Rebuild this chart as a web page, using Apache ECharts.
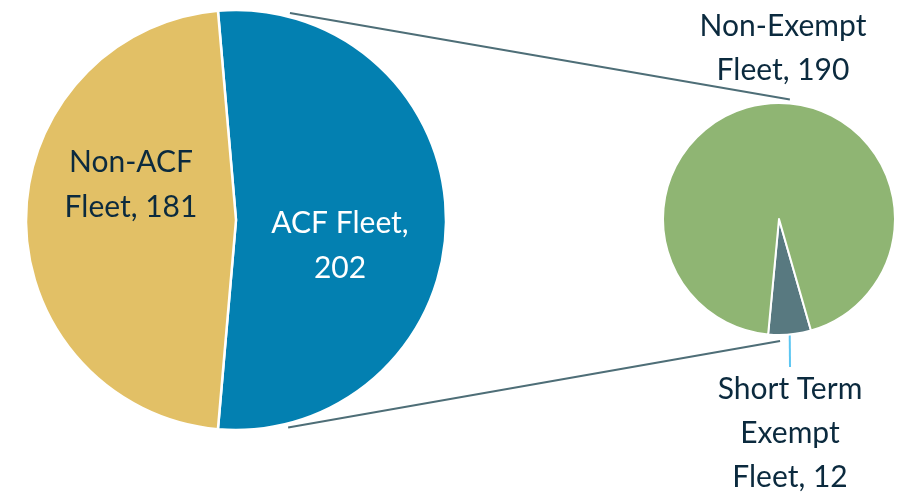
<!DOCTYPE html>
<html>
<head>
<meta charset="utf-8">
<script src="https://cdn.jsdelivr.net/npm/echarts@6/dist/echarts.min.js"></script>
<style>
  html, body { margin: 0; background: #fff; }
  #chart { width: 908px; height: 495px; }
</style>
</head>
<body>
<div id="chart"></div>
<script>
// main pie: whole fleet
const fleetNames = ['ACF Fleet', 'Non-ACF Fleet'];
const fleetValues = [202, 181];
const fleetHeads = ['ACF Fleet,\n', 'Non-ACF\nFleet, '];

// secondary pie: split of the ACF fleet
const acfNames = ['Short Term Exempt Fleet', 'Non-Exempt Fleet'];
const acfValues = [12, 190];
const acfHeads = ['Short Term\nExempt\nFleet, ', 'Non-Exempt\nFleet, '];

const textColor = '#0b2a3e';
const fontFamily = 'Lato, "Open Sans", sans-serif';

// layout of the two pies (pixels)
const big = { cx: 236, cy: 220, r: 210 };
const small = { cx: 779, cy: 219, r: 116 };

const fleetTotal = fleetValues[0] + fleetValues[1];
// centre the ACF slice on 3 o'clock
const bigStart = 90 + (fleetValues[0] / fleetTotal * 360 - 180) / 2;

function polar(p, deg, r) {
  const a = deg * Math.PI / 180;
  return [p.cx + r * Math.cos(a), p.cy - r * Math.sin(a)];
}

const chart = echarts.init(document.getElementById('chart'), null, { renderer: 'canvas' });

// connector lines between the ACF slice and the secondary pie
const connectors = [
  [polar(big, 75.4, 214), polar(small, 84.8, 120)],
  [polar(big, -75.9, 214), polar(small, -89.5, 122)]
].map(([a, b]) => ({
  type: 'line',
  silent: true,
  z: 10,
  shape: { x1: a[0], y1: a[1], x2: b[0], y2: b[1] },
  style: { stroke: '#4e6e77', lineWidth: 2 }
}));

chart.setOption({
  animation: false,
  graphic: connectors,
  series: [
    {
      type: 'pie',
      name: 'Fleet',
      center: [big.cx, big.cy],
      radius: big.r,
      startAngle: bigStart,
      clockwise: true,
      avoidLabelOverlap: false,
      itemStyle: { borderColor: '#fff', borderWidth: 2.5 },
      label: {
        position: 'inside',
        fontFamily: fontFamily,
        fontSize: 30,
        lineHeight: 45,
        formatter: p => fleetHeads[p.dataIndex] + p.value
      },
      labelLayout: p => p.dataIndex === 0
        ? { x: 340, y: 246, align: 'center', verticalAlign: 'middle' }
        : { x: 131, y: 185, align: 'center', verticalAlign: 'middle' },
      labelLine: { show: false },
      data: fleetNames.map((n, i) => ({
        name: n,
        value: fleetValues[i],
        itemStyle: { color: ['#0380b1', '#e2c066'][i] },
        label: { color: ['#ffffff', textColor][i] }
      }))
    },
    {
      type: 'pie',
      name: 'ACF Fleet',
      center: [small.cx, small.cy],
      radius: small.r,
      startAngle: 286,
      clockwise: true,
      avoidLabelOverlap: false,
      itemStyle: { borderColor: '#fff', borderWidth: 2 },
      label: {
        position: 'outside',
        color: textColor,
        fontFamily: fontFamily,
        fontSize: 30,
        lineHeight: 44,
        formatter: p => acfHeads[p.dataIndex] + p.value
      },
      labelLayout: p => p.dataIndex === 0
        ? { x: 790, y: 433, align: 'center', verticalAlign: 'middle' }
        : { x: 783, y: 48, align: 'center', verticalAlign: 'middle' },
      data: acfNames.map((n, i) => ({
        name: n,
        value: acfValues[i],
        itemStyle: { color: ['#587980', '#8fb573'][i] },
        labelLine: i === 0
          ? { show: true, length: 26, length2: 0, lineStyle: { color: '#5cc6f2', width: 2 } }
          : { show: false }
      }))
    }
  ]
});
</script>
</body>
</html>
